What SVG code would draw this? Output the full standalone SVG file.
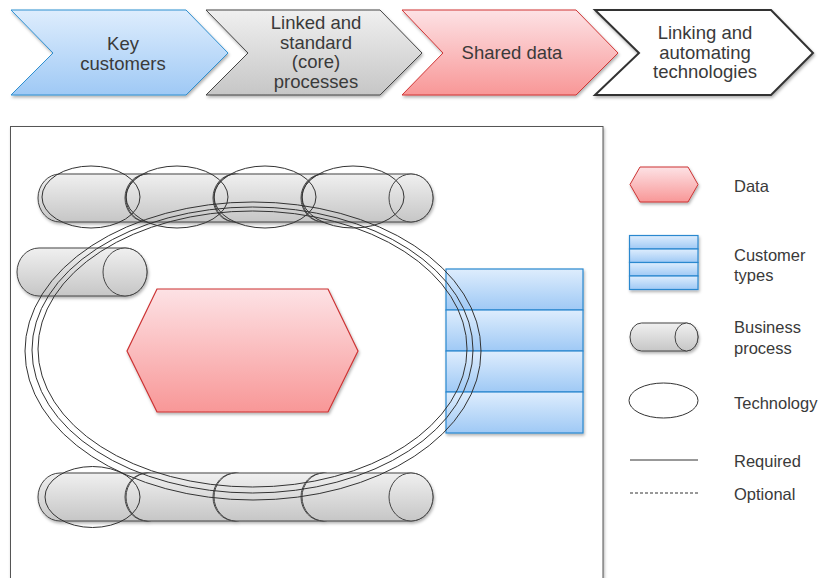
<svg xmlns="http://www.w3.org/2000/svg" xmlns:xlink="http://www.w3.org/1999/xlink" width="820" height="578" viewBox="0 0 820 578">
<defs>
<linearGradient id="gBlue" x1="0" y1="0" x2="0" y2="1"><stop offset="0" stop-color="#deedfd"/><stop offset="1" stop-color="#9fc9f5"/></linearGradient>
<linearGradient id="gGray" x1="0" y1="0" x2="0" y2="1"><stop offset="0" stop-color="#f0f0f0"/><stop offset="1" stop-color="#c6c6c6"/></linearGradient>
<linearGradient id="gRed" x1="0" y1="0" x2="0" y2="1"><stop offset="0" stop-color="#fde2e5"/><stop offset="1" stop-color="#f89797"/></linearGradient>
<filter id="sh" x="-10%" y="-10%" width="125%" height="135%"><feDropShadow dx="1" dy="2" stdDeviation="1.5" flood-color="#000" flood-opacity="0.3"/></filter>
<g id="cyl">
<path d="M22,-24 H109 A22 24 0 0 1 109,24 H22 A22 24 0 0 1 22,-24 Z"/>
<ellipse cx="109" cy="0" rx="22" ry="24"/>
</g>
</defs>
<style>
.t{font-family:"Liberation Sans",Arial,sans-serif;fill:#3a3a3a;}
.ch{font-size:18.5px;text-anchor:middle;}
.lg{font-size:16.5px;}
.cyl{fill:url(#gGray);stroke:#444;stroke-width:1;}
.tech{fill:none;stroke:#333;stroke-width:1;}
.ring{fill:none;stroke:#333;stroke-width:1;}
.cust{fill:url(#gBlue);stroke:#2a88cf;stroke-width:1.2;}
</style>

<g id="chevron-key-customers">
<polygon points="11,10 186,10 228,53 186,95 11,95 53,53" fill="url(#gBlue)" stroke="#2f8fd0" stroke-width="1" filter="url(#sh)"/>
<text class="t ch" x="123" y="50">Key</text>
<text class="t ch" x="123" y="69.5">customers</text>
</g>
<g id="chevron-linked-processes">
<polygon points="206,10 380,10 422,53 380,95 206,95 248,53" fill="url(#gGray)" stroke="#444" stroke-width="1" filter="url(#sh)"/>
<text class="t ch" x="316" y="29">Linked and</text>
<text class="t ch" x="316" y="48.5">standard</text>
<text class="t ch" x="316" y="68">(core)</text>
<text class="t ch" x="316" y="87.5">processes</text>
</g>
<g id="chevron-shared-data">
<polygon points="402,10 576,10 618,53 576,95 402,95 443,53" fill="url(#gRed)" stroke="#d03535" stroke-width="1" filter="url(#sh)"/>
<text class="t ch" x="512" y="59">Shared data</text>
</g>
<g id="chevron-technologies">
<polygon points="595,10 771,10 813,53 771,95 595,95 639,53" fill="#fff" stroke="#333" stroke-width="2" filter="url(#sh)"/>
<text class="t ch" x="705" y="39">Linking and</text>
<text class="t ch" x="705" y="58.5">automating</text>
<text class="t ch" x="705" y="78">technologies</text>
</g>

<g id="frame">
<rect x="10.5" y="126.5" width="592.5" height="480" fill="#fff" stroke="#555" stroke-width="1" filter="url(#sh)"/>
</g>

<g id="process-top-row" class="cyl" filter="url(#sh)">
<use xlink:href="#cyl" x="38" y="198"/>
<use xlink:href="#cyl" x="126" y="198"/>
<use xlink:href="#cyl" x="214" y="198"/>
<use xlink:href="#cyl" x="302" y="198"/>
</g>
<g id="process-left" class="cyl" filter="url(#sh)">
<path d="M39,248 H125 A22 24 0 0 1 125,296 H39 A22 24 0 0 1 39,248 Z"/>
<ellipse cx="125" cy="272" rx="22" ry="24"/>
</g>
<g id="process-bottom-row" class="cyl" filter="url(#sh)">
<use xlink:href="#cyl" x="38" y="497"/>
<use xlink:href="#cyl" x="126" y="497"/>
<use xlink:href="#cyl" x="214" y="497"/>
<use xlink:href="#cyl" x="302" y="497"/>
</g>

<g id="data-hexagon">
<polygon points="127,351 157,289 328,289 358,351 328,412 157,412" fill="url(#gRed)" stroke="#cc3333" stroke-width="1.2" filter="url(#sh)"/>
</g>

<g id="customer-types" filter="url(#sh)">
<rect class="cust" x="446" y="269" width="137" height="41"/>
<rect class="cust" x="446" y="310" width="137" height="41"/>
<rect class="cust" x="446" y="351" width="137" height="41"/>
<rect class="cust" x="446" y="392" width="137" height="41"/>
</g>

<g id="technology-rings">
<ellipse class="ring" cx="253" cy="351" rx="228" ry="149"/>
<ellipse class="ring" cx="252.5" cy="350" rx="220.5" ry="143"/>
<ellipse class="ring" cx="252.5" cy="349" rx="214.5" ry="138"/>
</g>

<g id="technology-top">
<ellipse class="tech" cx="91" cy="197" rx="49" ry="31"/>
<ellipse class="tech" cx="177" cy="197" rx="51" ry="31"/>
<ellipse class="tech" cx="265" cy="197" rx="51" ry="31"/>
<ellipse class="tech" cx="353" cy="197" rx="51" ry="31"/>
</g>
<g id="technology-bottom">
<ellipse class="tech" cx="92.5" cy="497" rx="47.5" ry="30.5"/>
</g>

<g id="legend-data">
<polygon points="630,184.5 640,167 688,167 698,184.5 688,202 640,202" fill="url(#gRed)" stroke="#cc3333" stroke-width="1" filter="url(#sh)"/>
<text class="t lg" x="734" y="192">Data</text>
</g>
<g id="legend-customer-types" filter="url(#sh)">
<rect class="cust" x="629.5" y="235.5" width="68.5" height="13.5"/>
<rect class="cust" x="629.5" y="249" width="68.5" height="13.5"/>
<rect class="cust" x="629.5" y="262.5" width="68.5" height="13.5"/>
<rect class="cust" x="629.5" y="276" width="68.5" height="13.5"/>
</g>
<g id="legend-customer-text">
<text class="t lg" x="734" y="261">Customer</text>
<text class="t lg" x="734" y="281">types</text>
</g>
<g id="legend-process">
<g class="cyl" filter="url(#sh)">
<path d="M641.5,323 H686.5 A11.5 14 0 0 1 686.5,351 H641.5 A11.5 14 0 0 1 641.5,323 Z"/>
<ellipse cx="686.5" cy="337" rx="11.5" ry="14"/>
</g>
<text class="t lg" x="734" y="333">Business</text>
<text class="t lg" x="734" y="354">process</text>
</g>
<g id="legend-technology">
<ellipse class="tech" cx="663.5" cy="400.5" rx="34.5" ry="17.5"/>
<text class="t lg" x="734" y="409">Technology</text>
</g>
<g id="legend-lines">
<line x1="630" y1="460" x2="698" y2="460" stroke="#333" stroke-width="1"/>
<text class="t lg" x="734" y="467">Required</text>
<line x1="630" y1="493" x2="698" y2="493" stroke="#333" stroke-width="1" stroke-dasharray="3,2"/>
<text class="t lg" x="734" y="500">Optional</text>
</g>
</svg>
